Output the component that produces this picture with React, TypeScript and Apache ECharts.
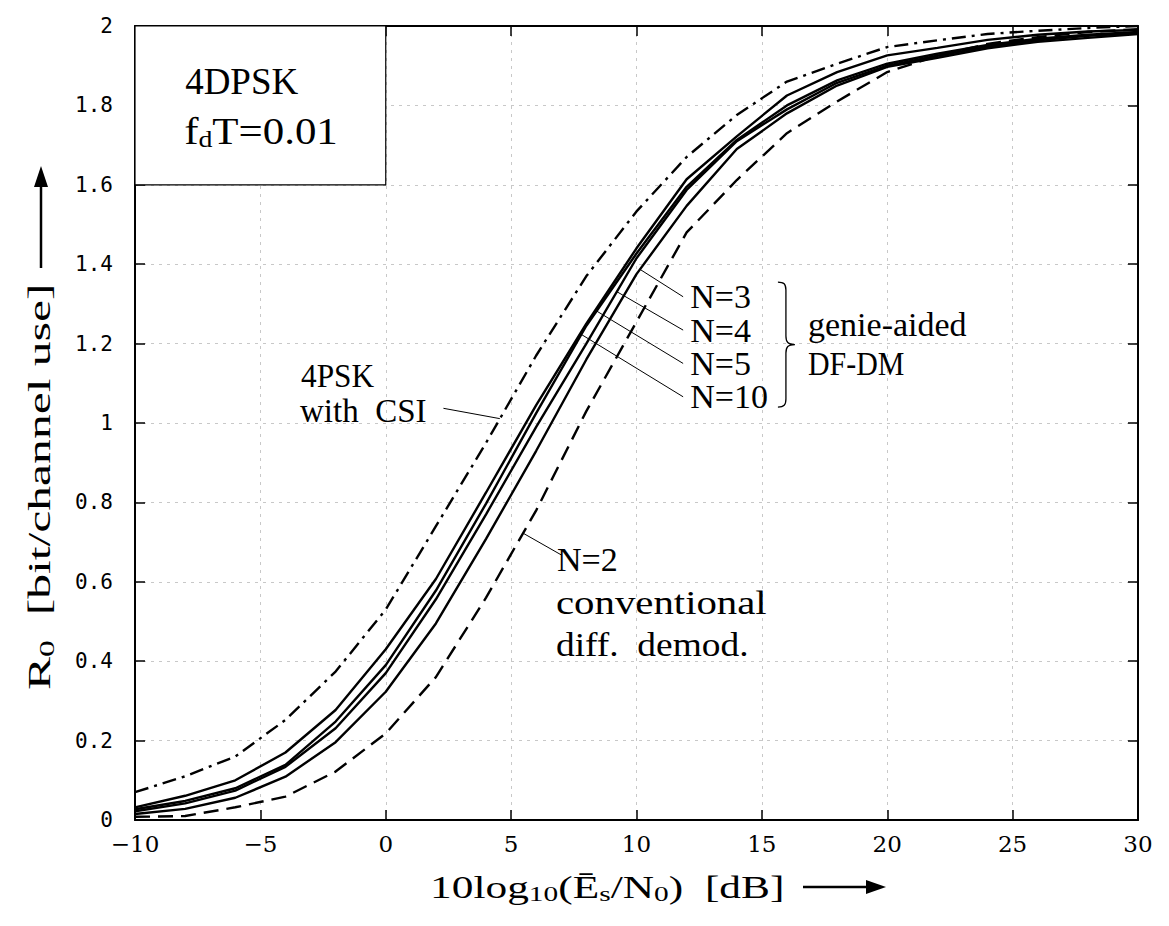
import React, { useEffect, useRef } from "react";
import * as echarts from "echarts";

// ---------- data ----------
const snrDb = [-10, -8, -6, -4, -2, 0, 2, 4, 6, 8, 10, 12, 14, 16, 18, 20, 22, 24, 26, 28, 30];
const r0Csi = [0.07, 0.11, 0.16, 0.252, 0.374, 0.53, 0.74, 0.95, 1.17, 1.37, 1.533, 1.67, 1.776, 1.86, 1.905, 1.947, 1.964, 1.98, 1.988, 1.995, 2.0];
const r0N10 = [0.032, 0.061, 0.1, 0.17, 0.277, 0.43, 0.607, 0.825, 1.045, 1.25, 1.44, 1.614, 1.722, 1.825, 1.884, 1.926, 1.945, 1.965, 1.978, 1.986, 1.99];
const r0N5 = [0.027, 0.048, 0.08, 0.139, 0.248, 0.39, 0.578, 0.797, 1.025, 1.245, 1.427, 1.595, 1.713, 1.8, 1.863, 1.905, 1.93, 1.952, 1.968, 1.978, 1.985];
const r0N4 = [0.022, 0.042, 0.074, 0.134, 0.231, 0.37, 0.556, 0.77, 0.99, 1.2, 1.415, 1.587, 1.71, 1.79, 1.857, 1.9, 1.925, 1.948, 1.964, 1.975, 1.982];
const r0N3 = [0.015, 0.028, 0.056, 0.109, 0.196, 0.323, 0.495, 0.708, 0.93, 1.16, 1.375, 1.547, 1.69, 1.78, 1.85, 1.897, 1.92, 1.944, 1.96, 1.97, 1.98];
const r0N2 = [0.008, 0.01, 0.032, 0.059, 0.122, 0.218, 0.36, 0.56, 0.78, 1.03, 1.255, 1.48, 1.612, 1.73, 1.81, 1.884, 1.925, 1.955, 1.972, 1.985, 1.992];

const xMin = -10, xMax = 30, xStep = 5;
const yMin = 0, yMax = 2, yStep = 0.2;

// annotation pointer lines, [label end, curve point] in data coords
const pointerLines = [
  [[11.86, 1.318], [10.14, 1.387]], // N=3
  [[11.86, 1.234], [9.21, 1.331]], // N=4
  [[11.86, 1.15], [8.41, 1.282]], // N=5
  [[11.86, 1.066], [7.75, 1.225]], // N=10
  [[2.3, 1.037], [4.55, 1.011]], // CSI
  [[7.02, 0.667], [5.49, 0.722]], // N=2
];

// inset box corners (data coords)
const insetBox = [[-10, 2], [0, 1.6]];

const SERIF = "'Liberation Serif', 'Times New Roman', serif";

echarts.graphic.registerShape(
  "brace",
  echarts.graphic.extendPath(
    "M0,0 C6,0 8,2 8,8 L8,54 C8,60 10,62.5 17,62.5 C10,62.5 8,65 8,71 L8,117 C8,123 6,125 0,125",
    {}
  )
);

const pair = (ys: number[]) => snrDb.map((x, i) => [x, ys[i]]);

const lineSeries = (name: string, ys: number[], type: any, extra: any = {}) => ({
  type: "line",
  name,
  data: pair(ys),
  symbol: "none",
  showSymbol: false,
  silent: true,
  z: 3,
  lineStyle: { color: "#000", width: 2.4, type },
  ...extra,
});

export default function App() {
  const ref = useRef<HTMLDivElement>(null);

  useEffect(() => {
    const chart = echarts.init(ref.current!, null, { renderer: "svg" });

    const axisCommon = {
      type: "value",
      axisLine: { show: true, onZero: false, lineStyle: { color: "#000", width: 2 } },
      axisTick: { show: true, inside: true, length: 10, lineStyle: { color: "#000", width: 1.5 } },
    };

    const option: any = {
      animation: false,
      backgroundColor: "#fff",
      grid: { left: 135, right: 31, top: 26, bottom: 106, containLabel: false },
      xAxis: [
        {
          ...axisCommon,
          min: xMin,
          max: xMax,
          interval: xStep,
          position: "bottom",
          axisLabel: {
            color: "#000",
            fontFamily: "'DejaVu Serif', serif",
            fontSize: 23,
            margin: 12,
            formatter: (v: number) => (v < 0 ? "\u2212" + Math.abs(v) : String(v)),
          },
          splitLine: { show: true, lineStyle: { color: "#c8c8c8", width: 1, type: [3, 5] } },
        },
        {
          ...axisCommon,
          min: xMin,
          max: xMax,
          interval: xStep,
          position: "top",
          axisLabel: { show: false },
          splitLine: { show: false },
        },
      ],
      yAxis: [
        {
          ...axisCommon,
          min: yMin,
          max: yMax,
          interval: yStep,
          position: "left",
          axisLabel: {
            color: "#000",
            fontFamily: "'DejaVu Sans Mono', monospace",
            fontSize: 21,
            margin: 22,
            formatter: (v: number) => String(+v.toFixed(1)),
          },
          splitLine: { show: true, lineStyle: { color: "#c8c8c8", width: 1, type: [3, 5] } },
        },
        {
          ...axisCommon,
          min: yMin,
          max: yMax,
          interval: yStep,
          position: "right",
          axisLabel: { show: false },
          splitLine: { show: false },
        },
      ],
      series: [
        lineSeries("4PSK with CSI", r0Csi, [14, 6, 3, 6], {
          markArea: {
            silent: true,
            itemStyle: { color: "#fff", borderColor: "#000", borderWidth: 1.2, opacity: 1 },
            label: { show: false },
            data: [[{ coord: insetBox[0] }, { coord: insetBox[1] }]],
          },
        }),
        lineSeries("N=10", r0N10, "solid", {
          markLine: {
            silent: true,
            symbol: ["none", "none"],
            label: { show: false },
            lineStyle: { color: "#000", width: 1, type: "solid" },
            data: pointerLines.map(([a, b]) => [{ coord: a }, { coord: b }]),
          },
        }),
        lineSeries("N=5", r0N5, "solid"),
        lineSeries("N=4", r0N4, "solid"),
        lineSeries("N=3", r0N3, "solid"),
        lineSeries("N=2", r0N2, [15, 8]),
      ],
    };

    chart.setOption(option);

    const toPx = (x: number, y: number) =>
      chart.convertToPixel({ xAxisIndex: 0, yAxisIndex: 0 }, [x, y]) as number[];

    const txt = (x: number, y: number, text: string, fontSize = 34, extra: any = {}) => {
      const [px, py] = toPx(x, y);
      return {
        type: "text",
        x: px,
        y: py,
        z: 100,
        silent: true,
        ...extra,
        style: {
          text,
          fontFamily: SERIF,
          fontSize,
          fill: "#000",
          align: "left",
          verticalAlign: "middle",
          ...(extra.style || {}),
        },
      };
    };

    const [bx, by] = toPx(15.64, 1.355);

    const graphic: any[] = [
      txt(-8.0, 1.859, "4DPSK", 37),
      txt(-8.04, 1.735, "f{sub|d}T=0.01", 37, {
        scaleX: 1.16,
        style: {
          rich: { sub: { fontFamily: SERIF, fontSize: 24, padding: [16, 0, 0, 0], fill: "#000" } },
        },
      }),
      txt(12.14, 1.318, "N=3"),
      txt(12.14, 1.234, "N=4"),
      txt(12.14, 1.15, "N=5"),
      txt(12.14, 1.066, "N=10"),
      txt(16.84, 1.247, "genie-aided", 34, { scaleX: 1.0 }),
      txt(16.84, 1.151, "DF-DM", 34, { scaleX: 0.88 }),
      txt(-3.38, 1.12, "4PSK", 33, { scaleX: 0.95 }),
      txt(-3.42, 1.031, "with  CSI", 33),
      txt(6.83, 0.655, "N=2"),
      txt(6.79, 0.547, "conventional", 34, { scaleX: 1.2 }),
      txt(6.79, 0.441, "diff.  demod.", 34, { scaleX: 1.1 }),
      {
        type: "brace",
        x: bx,
        y: by,
        z: 100,
        silent: true,
        style: { stroke: "#000", fill: "none", lineWidth: 1.3 },
      },
      // x-axis title
      {
        type: "text",
        x: 430,
        y: 887,
        z: 100,
        scaleX: 1.4,
        silent: true,
        style: {
          text: "10log{sub|10}(Ē{sub|s}/N{sub|0})  [dB]",
          fontFamily: SERIF,
          fontSize: 31,
          fill: "#000",
          align: "left",
          verticalAlign: "middle",
          rich: { sub: { fontFamily: SERIF, fontSize: 21, padding: [14, 0, 0, 0], fill: "#000" } },
        },
      },
      { type: "line", z: 100, silent: true, shape: { x1: 803, y1: 887, x2: 868, y2: 887 }, style: { stroke: "#000", lineWidth: 2.5 } },
      { type: "polygon", z: 100, silent: true, shape: { points: [[866, 880], [886, 887], [866, 894]] }, style: { fill: "#000" } },
      // y-axis title
      {
        type: "text",
        x: 40,
        y: 690,
        z: 100,
        rotation: Math.PI / 2,
        scaleX: 1.6,
        silent: true,
        style: {
          text: "R{sub|0}  [bit/channel use]",
          fontFamily: SERIF,
          fontSize: 31,
          fill: "#000",
          align: "left",
          verticalAlign: "middle",
          rich: { sub: { fontFamily: SERIF, fontSize: 21, padding: [14, 0, 0, 0], fill: "#000" } },
        },
      },
      { type: "line", z: 100, silent: true, shape: { x1: 41, y1: 268, x2: 41, y2: 185 }, style: { stroke: "#000", lineWidth: 2.5 } },
      { type: "polygon", z: 100, silent: true, shape: { points: [[34, 187], [41, 166], [48, 187]] }, style: { fill: "#000" } },
    ];

    chart.setOption({ graphic });

    return () => chart.dispose();
  }, []);

  return (
    <div
      ref={ref}
      style={{ position: "absolute", left: 0, top: 0, width: 1169, height: 926, background: "#fff" }}
    />
  );
}
